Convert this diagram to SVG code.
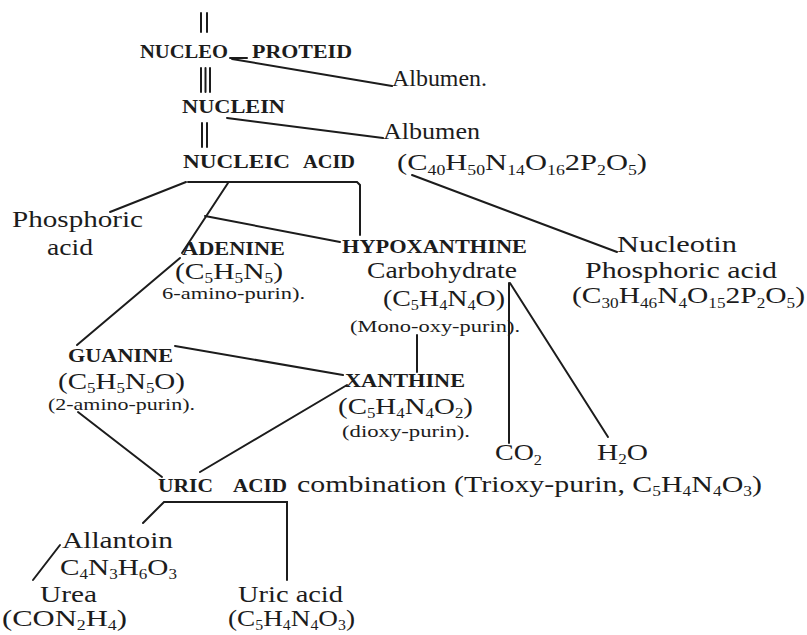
<svg xmlns="http://www.w3.org/2000/svg" width="807" height="635" viewBox="0 0 807 635">
<style>
text{font-family:"Liberation Serif","Times New Roman",serif;fill:#1c1c1c;font-size:24px}
.sc{font-weight:bold;font-size:18px}
.sm{font-size:17px}
.s{font-size:14px}
.c line,.c polyline{stroke:#1c1c1c;stroke-width:2;fill:none;stroke-linecap:round}
</style>
<rect width="807" height="635" fill="#ffffff"/>
<g class="c" id="connectors">
<line x1="201" y1="13" x2="201" y2="32"/><line x1="207" y1="13" x2="207" y2="32"/>
<line x1="201" y1="68" x2="201" y2="92"/><line x1="205.5" y1="68" x2="205.5" y2="92"/><line x1="210" y1="68" x2="210" y2="92"/>
<line x1="202" y1="123" x2="202" y2="147"/><line x1="207" y1="123" x2="207" y2="147"/>
<line x1="230" y1="58" x2="247" y2="58"/>
<line x1="232" y1="59" x2="392" y2="86" stroke-width="2.6"/>
<line x1="227" y1="118" x2="383" y2="138" stroke-width="2.4"/>
<polyline points="188,182 357,182 360,185 360,235"/>
<line x1="186" y1="182" x2="110" y2="212" stroke-width="2.4"/>
<line x1="228" y1="183" x2="182" y2="253"/>
<line x1="205" y1="216" x2="340" y2="242" stroke-width="2.6"/>
<line x1="412" y1="175" x2="617" y2="252" stroke-width="2.2"/>
<line x1="180" y1="258" x2="77" y2="345"/>
<line x1="509" y1="283" x2="509" y2="443"/>
<line x1="510" y1="283" x2="608" y2="437"/>
<line x1="417" y1="335" x2="417" y2="372"/>
<line x1="175" y1="346" x2="343" y2="375" stroke-width="3.4"/>
<line x1="347" y1="385" x2="200" y2="472" stroke-width="2.6"/>
<line x1="78" y1="412" x2="162" y2="477" stroke-width="2.4"/>
<polyline points="143,523 164,502 287,502 287,580"/>
<line x1="60" y1="545" x2="33" y2="580"/>
</g>
<g id="nucleoproteid"><text class="sc" x="140" y="58" textLength="88" lengthAdjust="spacingAndGlyphs">NUCLEO</text><text class="sc" x="252" y="58" textLength="100" lengthAdjust="spacingAndGlyphs">PROTEID</text></g>
<g id="albumen1"><text x="392" y="86" textLength="95" lengthAdjust="spacingAndGlyphs">Albumen.</text></g>
<g id="nuclein"><text class="sc" x="182" y="113" textLength="103" lengthAdjust="spacingAndGlyphs">NUCLEIN</text></g>
<g id="albumen2"><text x="383" y="139" textLength="97" lengthAdjust="spacingAndGlyphs">Albumen</text>
<text x="397" y="170" textLength="250" lengthAdjust="spacingAndGlyphs">(C<tspan class="s" dy="5">40</tspan><tspan dy="-5">H</tspan><tspan class="s" dy="5">50</tspan><tspan dy="-5">N</tspan><tspan class="s" dy="5">14</tspan><tspan dy="-5">O</tspan><tspan class="s" dy="5">16</tspan><tspan dy="-5">2P</tspan><tspan class="s" dy="5">2</tspan><tspan dy="-5">O</tspan><tspan class="s" dy="5">5</tspan><tspan dy="-5">)</tspan></text></g>
<g id="nucleicacid"><text class="sc" x="183" y="168" textLength="107" lengthAdjust="spacingAndGlyphs">NUCLEIC</text><text class="sc" x="303" y="168" textLength="52" lengthAdjust="spacingAndGlyphs">ACID</text></g>
<g id="phosphoric"><text x="12" y="227" textLength="131" lengthAdjust="spacingAndGlyphs">Phosphoric</text><text x="47" y="255" textLength="46" lengthAdjust="spacingAndGlyphs">acid</text></g>
<g id="adenine"><text class="sc" x="182" y="255" textLength="103" lengthAdjust="spacingAndGlyphs">ADENINE</text>
<text x="175" y="279" textLength="108" lengthAdjust="spacingAndGlyphs">(C<tspan class="s" dy="4">5</tspan><tspan dy="-4">H</tspan><tspan class="s" dy="4">5</tspan><tspan dy="-4">N</tspan><tspan class="s" dy="4">5</tspan><tspan dy="-4">)</tspan></text>
<text class="sm" x="162" y="299" textLength="143" lengthAdjust="spacingAndGlyphs">6-amino-purin).</text></g>
<g id="hypoxanthine"><text class="sc" x="342" y="253" textLength="185" lengthAdjust="spacingAndGlyphs">HYPOXANTHINE</text>
<text x="367" y="278" textLength="150" lengthAdjust="spacingAndGlyphs">Carbohydrate</text>
<text x="383" y="306" textLength="122" lengthAdjust="spacingAndGlyphs">(C<tspan class="s" dy="4">5</tspan><tspan dy="-4">H</tspan><tspan class="s" dy="4">4</tspan><tspan dy="-4">N</tspan><tspan class="s" dy="4">4</tspan><tspan dy="-4">O)</tspan></text>
<text class="sm" x="350" y="332" textLength="170" lengthAdjust="spacingAndGlyphs">(Mono-oxy-purin).</text></g>
<g id="nucleotin"><text x="617" y="252" textLength="120" lengthAdjust="spacingAndGlyphs">Nucleotin</text>
<text x="585" y="278" textLength="192" lengthAdjust="spacingAndGlyphs">Phosphoric acid</text>
<text x="572" y="303" textLength="233" lengthAdjust="spacingAndGlyphs">(C<tspan class="s" dy="5">30</tspan><tspan dy="-5">H</tspan><tspan class="s" dy="5">46</tspan><tspan dy="-5">N</tspan><tspan class="s" dy="5">4</tspan><tspan dy="-5">O</tspan><tspan class="s" dy="5">15</tspan><tspan dy="-5">2P</tspan><tspan class="s" dy="5">2</tspan><tspan dy="-5">O</tspan><tspan class="s" dy="5">5</tspan><tspan dy="-5">)</tspan></text></g>
<g id="guanine"><text class="sc" x="68" y="362" textLength="105" lengthAdjust="spacingAndGlyphs">GUANINE</text>
<text x="58" y="389" textLength="127" lengthAdjust="spacingAndGlyphs">(C<tspan class="s" dy="4">5</tspan><tspan dy="-4">H</tspan><tspan class="s" dy="4">5</tspan><tspan dy="-4">N</tspan><tspan class="s" dy="4">5</tspan><tspan dy="-4">O)</tspan></text>
<text class="sm" x="48" y="410" textLength="147" lengthAdjust="spacingAndGlyphs">(2-amino-purin).</text></g>
<g id="xanthine"><text class="sc" x="345" y="387" textLength="120" lengthAdjust="spacingAndGlyphs">XANTHINE</text>
<text x="338" y="414" textLength="135" lengthAdjust="spacingAndGlyphs">(C<tspan class="s" dy="4">5</tspan><tspan dy="-4">H</tspan><tspan class="s" dy="4">4</tspan><tspan dy="-4">N</tspan><tspan class="s" dy="4">4</tspan><tspan dy="-4">O</tspan><tspan class="s" dy="4">2</tspan><tspan dy="-4">)</tspan></text>
<text class="sm" x="342" y="437" textLength="128" lengthAdjust="spacingAndGlyphs">(dioxy-purin).</text></g>
<g id="co2"><text x="495" y="460" textLength="47" lengthAdjust="spacingAndGlyphs">CO<tspan class="s" dy="5">2</tspan></text></g>
<g id="h2o"><text x="597" y="460" textLength="51" lengthAdjust="spacingAndGlyphs">H<tspan class="s" dy="4">2</tspan><tspan dy="-4">O</tspan></text></g>
<g id="uricacid"><text class="sc" x="158" y="492" textLength="55" lengthAdjust="spacingAndGlyphs">URIC</text><text class="sc" x="233" y="492" textLength="54" lengthAdjust="spacingAndGlyphs">ACID</text>
<text x="297" y="492" textLength="465" lengthAdjust="spacingAndGlyphs">combination (Trioxy-purin, C<tspan class="s" dy="4">5</tspan><tspan dy="-4">H</tspan><tspan class="s" dy="4">4</tspan><tspan dy="-4">N</tspan><tspan class="s" dy="4">4</tspan><tspan dy="-4">O</tspan><tspan class="s" dy="4">3</tspan><tspan dy="-4">)</tspan></text></g>
<g id="allantoin"><text x="62" y="548" textLength="111" lengthAdjust="spacingAndGlyphs">Allantoin</text>
<text x="60" y="575" textLength="117" lengthAdjust="spacingAndGlyphs">C<tspan class="s" dy="4">4</tspan><tspan dy="-4">N</tspan><tspan class="s" dy="4">3</tspan><tspan dy="-4">H</tspan><tspan class="s" dy="4">6</tspan><tspan dy="-4">O</tspan><tspan class="s" dy="4">3</tspan></text></g>
<g id="urea"><text x="40" y="602" textLength="57" lengthAdjust="spacingAndGlyphs">Urea</text>
<text x="2" y="626" textLength="125" lengthAdjust="spacingAndGlyphs">(CON<tspan class="s" dy="4">2</tspan><tspan dy="-4">H</tspan><tspan class="s" dy="4">4</tspan><tspan dy="-4">)</tspan></text></g>
<g id="uricacid2"><text x="238" y="602" textLength="105" lengthAdjust="spacingAndGlyphs">Uric acid</text>
<text x="228" y="626" textLength="127" lengthAdjust="spacingAndGlyphs">(C<tspan class="s" dy="4">5</tspan><tspan dy="-4">H</tspan><tspan class="s" dy="4">4</tspan><tspan dy="-4">N</tspan><tspan class="s" dy="4">4</tspan><tspan dy="-4">O</tspan><tspan class="s" dy="4">3</tspan><tspan dy="-4">)</tspan></text></g>
</svg>
